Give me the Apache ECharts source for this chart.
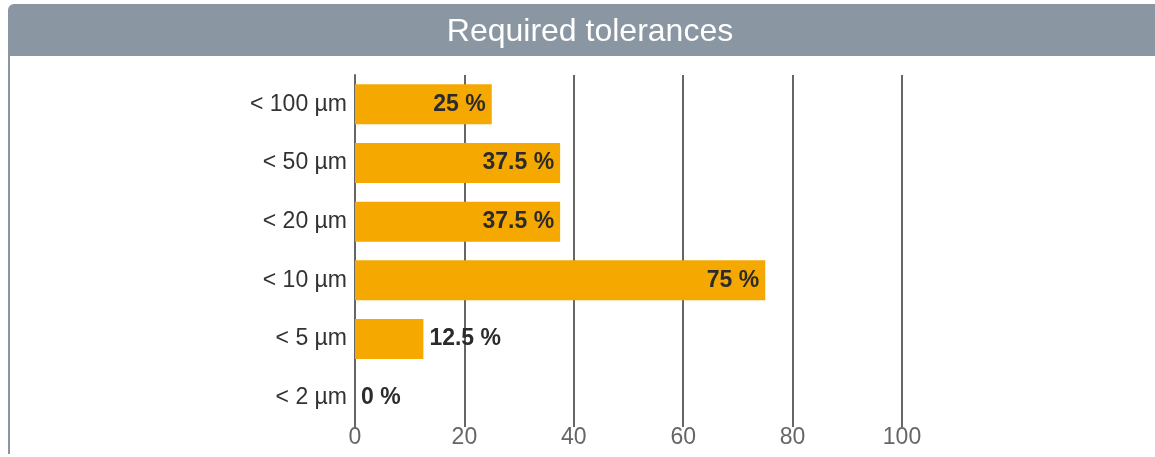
<!DOCTYPE html>
<html>
<head>
<meta charset="utf-8">
<script src="https://cdn.jsdelivr.net/npm/echarts@6/dist/echarts.min.js"></script>
<style>
  html, body { margin: 0; padding: 0; background: #fff; }
  #chart { width: 1155px; height: 457px; }
</style>
</head>
<body>
<div id="chart"></div>
<script>
const categories = ['< 100 µm', '< 50 µm', '< 20 µm', '< 10 µm', '< 5 µm', '< 2 µm'];
const shares = [25, 37.5, 37.5, 75, 12.5, 0];
const xTicks = [0, 20, 40, 60, 80, 100];

const FONT = '"Liberation Sans", Arial, sans-serif';
const BAR_COLOR = '#f5a800';
const FRAME_COLOR = '#8a97a2';

let chart = echarts.init(document.getElementById('chart'));

// short bars get their label outside
const barData = shares.map(v => ({
  value: v,
  label: { position: v < 20 ? 'right' : 'insideRight' }
}));

const option = {
  animation: false,
  textStyle: { fontFamily: FONT },
  graphic: [
    {
      type: 'rect',
      shape: { x: 8, y: 4, width: 1160, height: 52, r: [6, 0, 0, 0] },
      style: { fill: FRAME_COLOR }
    },
    {
      type: 'rect',
      shape: { x: 8, y: 56, width: 2, height: 398 },
      style: { fill: FRAME_COLOR }
    },
    {
      type: 'text',
      x: 590,
      y: 32,
      style: {
        text: 'Required tolerances',
        fill: '#fff',
        font: '32px ' + FONT,
        align: 'center',
        verticalAlign: 'middle'
      }
    }
  ],
  grid: { left: 355, top: 75, width: 547, height: 352 },
  xAxis: {
    type: 'value',
    min: 0,
    max: 100,
    interval: 20,
    axisLine: { show: false },
    axisTick: { show: false },
    splitLine: { lineStyle: { color: '#666', width: 2 } },
    axisLabel: {
      color: '#666',
      fontSize: 23,
      margin: -1,
      formatter: v => xTicks.includes(v) ? String(v) : ''
    }
  },
  yAxis: {
    type: 'category',
    inverse: true,
    data: categories,
    axisLine: { show: true, lineStyle: { color: '#666', width: 2 } },
    axisTick: { show: false },
    axisLabel: { color: '#333', fontSize: 23, margin: 8 }
  },
  series: [{
    type: 'bar',
    data: barData,
    barWidth: 40,
    itemStyle: { color: BAR_COLOR },
    label: {
      show: true,
      formatter: p => p.value + ' %',
      color: '#2b2b2b',
      fontWeight: 'bold',
      fontSize: 23,
      distance: 6
    }
  }]
};

chart.setOption(option);

window.addEventListener('resize', function() {
  chart.resize();
});
</script>
</body>
</html>
